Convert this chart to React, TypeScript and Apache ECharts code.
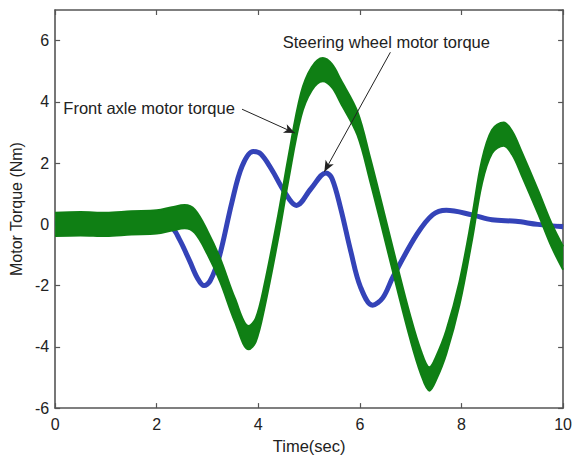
import React, { useEffect, useRef } from 'react';
import * as echarts from 'echarts';

// Steering wheel motor torque (Nm) against time (s)
const STEERING_T = [0, 1.0, 2.0, 2.3, 2.45, 2.65, 2.8, 2.93, 3.05, 3.23, 3.48, 3.68, 3.9, 4.05, 4.26, 4.52, 4.75, 5.04, 5.33, 5.45, 5.62, 5.82, 6.01, 6.25, 6.45, 6.65, 7.12, 7.43, 7.7, 8.21, 8.6, 9.07, 9.5, 10];
const STEERING_TQ = [0.02, 0.02, 0.0, -0.12, -0.5, -1.2, -1.75, -2.0, -1.85, -1.07, 0.72, 1.9, 2.38, 2.3, 1.8, 1.05, 0.62, 1.17, 1.68, 1.5, 0.53, -0.88, -2.04, -2.64, -2.4, -1.72, -0.33, 0.31, 0.46, 0.31, 0.15, 0.1, 0.0, -0.08];

// Front axle motor torque (Nm) against time (s), centre of the noisy trace
const FRONT_T = [0, 0.5, 1.0, 1.5, 2.0, 2.3, 2.55, 2.75, 3.0, 3.25, 3.54, 3.81, 3.95, 4.12, 4.4, 4.59, 4.84, 5.05, 5.27, 5.45, 5.62, 5.95, 6.2, 6.46, 6.73, 6.98, 7.2, 7.37, 7.5, 7.7, 7.96, 8.21, 8.4, 8.6, 8.83, 9.0, 9.18, 9.51, 9.77, 10];
const FRONT_TQ = [0.0, 0.02, 0.0, 0.05, 0.08, 0.18, 0.25, 0.1, -0.6, -1.5, -2.8, -3.7, -3.45, -2.35, 0.0, 1.8, 3.9, 4.75, 5.05, 4.85, 4.35, 3.3, 1.8, 0.1, -1.7, -3.3, -4.5, -5.05, -4.7, -3.85, -2.25, -0.1, 1.7, 2.7, 2.95, 2.65, 2.0, 0.72, -0.34, -1.1];

// Axis ranges and ticks
const X_MIN = 0;
const X_MAX = 10;
const X_STEP = 2;
const Y_MIN = -6;
const Y_MAX = 7;
const Y_STEP = 2;

// Annotation text and arrows: [tail, head] in data coordinates
const FRONT_LABEL = 'Front axle motor torque';
const FRONT_LABEL_AT = [1.85, 3.79];
const FRONT_ARROW = [[3.68, 3.76], [4.72, 2.98]];
const STEER_LABEL = 'Steering wheel motor torque';
const STEER_LABEL_AT = [6.52, 5.97];
const STEER_ARROW = [[6.6, 5.62], [5.3, 1.72]];

// Drawing styles
const BLUE = '#3443b8';
const GREEN = '#0f7f14';
const NOISE_BAND = 0.76; // visible thickness of the noisy front-axle trace, Nm
const FONT = '"Liberation Sans", Arial, Helvetica, sans-serif';
const AXIS_COLOR = '#555';
const TEXT_COLOR = '#222';

export default function App() {
  const ref = useRef<HTMLDivElement>(null);

  useEffect(() => {
    if (!ref.current) return;
    const chart = echarts.init(ref.current, null, { renderer: 'svg' });

    const steering = STEERING_T.map((t, i) => [t, STEERING_TQ[i]]);
    // Band rows are stored as [torque, time] so that the torque dimension is the stacked one.
    const frontLower = FRONT_T.map((t, i) => [FRONT_TQ[i] - NOISE_BAND / 2, t]);
    const frontBand = FRONT_T.map((t) => [NOISE_BAND, t]);
    const bandEncode = { x: 1, y: 0 };

    const axisLine = { show: true, onZero: false, lineStyle: { color: AXIS_COLOR, width: 1.6 } };
    const innerTick = { show: true, inside: true, length: 5, lineStyle: { color: AXIS_COLOR, width: 1.2 } };
    const tickLabel = { color: TEXT_COLOR, fontSize: 16, fontFamily: FONT };

    chart.setOption({
      animation: false,
      backgroundColor: '#fff',
      grid: { left: 51, right: 11, top: 10, bottom: 42, containLabel: false },
      xAxis: [
        {
          type: 'value', min: X_MIN, max: X_MAX, interval: X_STEP, position: 'bottom',
          name: 'Time(sec)', nameLocation: 'middle', nameGap: 25,
          nameTextStyle: { color: TEXT_COLOR, fontSize: 16.5, fontFamily: FONT },
          axisLine, axisTick: innerTick, splitLine: { show: false },
          axisLabel: { ...tickLabel, margin: 8 },
        },
        {
          type: 'value', min: X_MIN, max: X_MAX, interval: X_STEP, position: 'top',
          axisLine, axisTick: innerTick, splitLine: { show: false }, axisLabel: { show: false },
        },
      ],
      yAxis: [
        {
          type: 'value', min: Y_MIN, max: Y_MAX, interval: Y_STEP, position: 'left',
          name: 'Motor Torque (Nm)', nameLocation: 'middle', nameGap: 30,
          nameTextStyle: { color: TEXT_COLOR, fontSize: 16, fontFamily: FONT },
          axisLine, axisTick: innerTick, splitLine: { show: false },
          axisLabel: {
            ...tickLabel, margin: 6, showMaxLabel: false,
            formatter: (v: number) => (v === Y_MAX ? '' : String(v)),
          },
        },
        {
          type: 'value', min: Y_MIN, max: Y_MAX, interval: Y_STEP, position: 'right',
          axisLine, axisTick: innerTick, splitLine: { show: false }, axisLabel: { show: false },
        },
      ],
      series: [
        {
          name: 'Steering wheel motor torque', type: 'line', data: steering, z: 1,
          smooth: 0.35, showSymbol: false, symbol: 'none',
          lineStyle: { color: BLUE, width: 5 },
        },
        {
          name: 'front-lower', type: 'line', data: frontLower, encode: bandEncode, z: 3,
          stack: 'front', stackStrategy: 'all',
          smooth: 0.35, showSymbol: false, symbol: 'none',
          lineStyle: { color: GREEN, width: 2 },
        },
        {
          name: 'Front axle motor torque', type: 'line', data: frontBand, encode: bandEncode, z: 3,
          stack: 'front', stackStrategy: 'all',
          smooth: 0.35, showSymbol: false, symbol: 'none',
          lineStyle: { color: GREEN, width: 2 },
          areaStyle: { color: GREEN, opacity: 1 },
          markLine: {
            silent: true,
            symbol: ['none', 'arrow'],
            symbolSize: [7, 11],
            label: { show: false },
            lineStyle: { color: TEXT_COLOR, width: 1, type: 'solid' },
            data: [
              [{ coord: FRONT_ARROW[0] }, { coord: FRONT_ARROW[1] }],
              [{ coord: STEER_ARROW[0] }, { coord: STEER_ARROW[1] }],
            ],
          },
          markPoint: {
            silent: true,
            symbol: 'circle',
            symbolSize: 1,
            itemStyle: { color: 'rgba(0,0,0,0)' },
            label: {
              show: true, position: 'inside', color: TEXT_COLOR,
              fontSize: 16.5, fontFamily: FONT,
              formatter: (p: any) => p.name,
            },
            data: [
              { name: FRONT_LABEL, coord: FRONT_LABEL_AT },
              { name: STEER_LABEL, coord: STEER_LABEL_AT },
            ],
          },
        },
      ],
    });

    return () => chart.dispose();
  }, []);

  return (
    <div
      ref={ref}
      style={{ position: 'fixed', left: 0, top: 0, width: 575, height: 459, background: '#fff' }}
    />
  );
}
